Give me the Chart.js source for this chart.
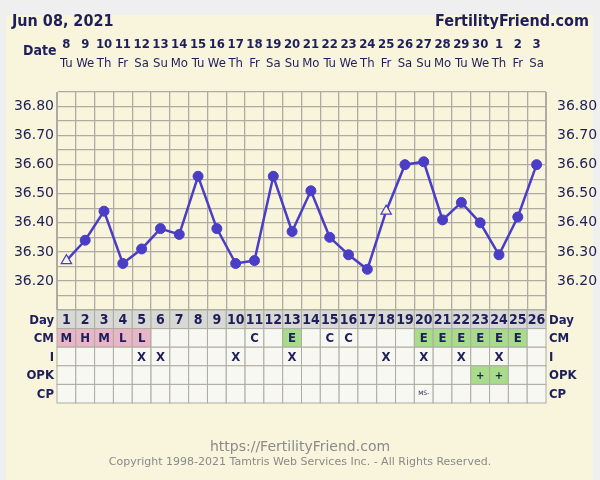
<!DOCTYPE html>
<html><head><meta charset="utf-8">
<script src="https://cdn.jsdelivr.net/npm/chart.js@4"></script>
<style>html,body{margin:0;padding:0;background:#efefef;}canvas{display:block;}</style>
</head><body>
<canvas id="c" width="600" height="480"></canvas>
<script>
const cycleDays = ['1','2','3','4','5','6','7','8','9','10','11','12','13','14','15','16','17','18','19','20','21','22','23','24','25','26'];
const dates = ['8','9','10','11','12','13','14','15','16','17','18','19','20','21','22','23','24','25','26','27','28','29','30','1','2','3'];
const weekdays = ['Tu','We','Th','Fr','Sa','Su','Mo','Tu','We','Th','Fr','Sa','Su','Mo','Tu','We','Th','Fr','Sa','Su','Mo','Tu','We','Th','Fr','Sa'];
const temps = [36.27,36.34,36.44,36.26,36.31,36.38,36.36,36.56,36.38,36.26,36.27,36.56,36.37,36.51,36.35,36.29,36.24,36.44,36.60,36.61,36.41,36.47,36.40,36.29,36.42,36.60];
const markers = ['triangle','circle','circle','circle','circle','circle','circle','circle','circle','circle','circle','circle','circle','circle','circle','circle','circle','triangle','circle','circle','circle','circle','circle','circle','circle','circle'];
const cm = ['M','H','M','L','L','','','','','','C','','E','','C','C','','','','E','E','E','E','E','E',''];
const intercourse = ['','','','','X','X','','','','X','','','X','','','','','X','','X','','X','','X','',''];
const opk = ['','','','','','','','','','','','','','','','','','','','','','','+','+','',''];
const cp = ['','','','','','','','','','','','','','','','','','','','MS-','','','','','',''];
const yTicks = [36.20,36.30,36.40,36.50,36.60,36.70,36.80];

const NAVY = '#1e1e5a', LINE = '#4a3dc6', GRID = '#aeaca2', CREAM = '#f8f5dc';

const framePlugin = {
  id: 'frame',
  beforeDraw(chart) {
    const ctx = chart.ctx;
    ctx.save();
    ctx.fillStyle = '#efefef'; ctx.fillRect(0,0,600,480);
    ctx.fillStyle = CREAM; ctx.fillRect(6,15,587,465);
    ctx.restore();
  },
  afterDraw(chart) {
    const ctx = chart.ctx, xs = chart.scales.x, ca = chart.chartArea;
    const n = cycleDays.length, cw = (ca.right - ca.left) / n;
    ctx.save();
    ctx.fillStyle = NAVY; ctx.textBaseline = 'middle';
    ctx.font = 'bold 16px "DejaVu Sans Condensed"';
    ctx.textAlign = 'left'; ctx.fillText('Jun 08, 2021', 12, 22);
    ctx.textAlign = 'right'; ctx.fillText('FertilityFriend.com', 589, 22);
    ctx.font = 'bold 14px "DejaVu Sans Condensed"';
    ctx.textAlign = 'left'; ctx.fillText('Date', 23, 51);
    ctx.textAlign = 'center';
    for (let i=0;i<n;i++){
      const x = xs.getPixelForValue(i);
      ctx.font = 'bold 13px "DejaVu Sans Condensed"';
      ctx.fillText(dates[i], x, 45);
      ctx.font = '13px "DejaVu Sans Condensed"';
      ctx.fillText(weekdays[i], x, 64);
    }
    const rows = [
      {label:'Day', vals:cycleDays, bg:'#d8d8d4'},
      {label:'CM', vals:cm},
      {label:'I', vals:intercourse},
      {label:'OPK', vals:opk},
      {label:'CP', vals:cp}
    ];
    const top = ca.bottom, rh = 18.6;
    rows.forEach((r, ri) => {
      const y0 = top + ri*rh;
      for (let i=0;i<n;i++){
        const x0 = xs.getPixelForValue(i) - cw/2;
        let bg = r.bg || '#f8f8f2';
        const v = r.vals[i];
        if (ri===1 && 'MHL'.includes(v) && v) bg = '#e8b6c6';
        if ((ri===1 && v==='E') || (ri===3 && v==='+')) bg = '#a6dc8a';
        ctx.fillStyle = bg; ctx.fillRect(x0, y0, cw, rh);
        ctx.strokeStyle = GRID; ctx.lineWidth = 1; ctx.strokeRect(x0, y0, cw, rh);
        if (v) {
          ctx.fillStyle = NAVY;
          if (v==='MS-') { ctx.font = '6px "DejaVu Sans"'; ctx.fillText(v, x0+cw/2, y0+rh/2); }
          else if (v==='+') { ctx.font = 'bold 10px "DejaVu Sans"'; ctx.fillText(v, xs.getPixelForValue(i), y0+rh/2+1); }
          else { ctx.font = (ri===0?'bold 14px':'bold 13px')+' "DejaVu Sans Condensed"'; ctx.fillText(v, xs.getPixelForValue(i), y0+rh/2+1); }
        }
      }
      ctx.fillStyle = NAVY;
      ctx.font = 'bold 13px "DejaVu Sans Condensed"';
      ctx.textAlign = 'right'; ctx.fillText(r.label, ca.left-3, y0+rh/2+1);
      ctx.textAlign = 'left'; ctx.fillText(r.label, ca.right+3, y0+rh/2+1);
      ctx.textAlign = 'center';
    });
    ctx.fillStyle = '#8a8a8a'; ctx.font = '14px "DejaVu Sans"';
    ctx.fillText('https://FertilityFriend.com', 300, 447);
    ctx.font = '11px "DejaVu Sans"';
    ctx.fillText('Copyright 1998-2021 Tamtris Web Services Inc. - All Rights Reserved.', 300, 462);
    ctx.restore();
  }
};

const tickCb = v => yTicks.some(t => Math.abs(t - v) < 1e-6) ? Number(v).toFixed(2) : '';
const yCommon = {
  min: 36.10, max: 36.85,
  grid: {color: GRID, lineWidth: 1.3, drawTicks: false},
  border: {color: GRID},
  ticks: {stepSize: 0.05, autoSkip: false, callback: tickCb, color: NAVY, font: {family: 'DejaVu Sans', size: 14}, padding: 3}
};

new Chart(document.getElementById('c'), {
  type: 'line',
  data: {labels: cycleDays, datasets: [{
    data: temps, borderColor: LINE, borderWidth: 2.5, tension: 0,
    pointStyle: markers,
    pointRadius: markers.map(m => m==='triangle' ? 6 : 5),
    pointBackgroundColor: markers.map(m => m==='triangle' ? CREAM : LINE),
    pointBorderColor: LINE, pointBorderWidth: markers.map(m => m==='triangle' ? 1.2 : 1)
  }]},
  options: {
    responsive: false, animation: false,
    layout: {padding: {top: 92, bottom: 170, left: 0, right: 0}},
    plugins: {legend: {display: false}, tooltip: {enabled: false}},
    scales: {
      x: {offset: true, grid: {offset: true, color: GRID, lineWidth: 1.3, drawTicks: false}, border: {color: GRID},
          ticks: {display: false}, afterFit: s => { s.height = 0; }},
      y: Object.assign({}, yCommon, {position: 'left', afterFit: s => { s.width = 57; }}),
      y2: Object.assign({}, yCommon, {position: 'right', grid: {display: false}, afterFit: s => { s.width = 54; }})
    }
  },
  plugins: [framePlugin]
});
</script>
</body></html>
